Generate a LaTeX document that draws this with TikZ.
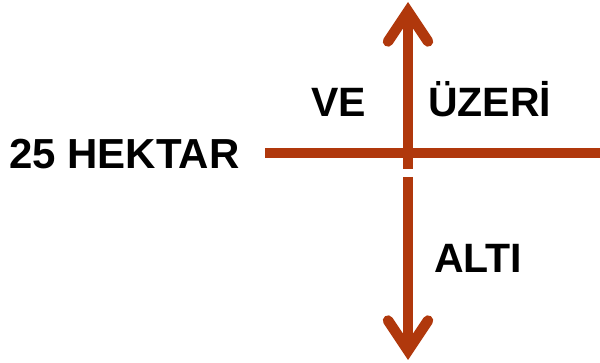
\documentclass[tikz,border=0pt]{standalone}
\usepackage{fontspec}
\setmainfont{Liberation Sans}
\usetikzlibrary{arrows.meta}
\definecolor{rust}{HTML}{B0380C}

\begin{document}
\begin{tikzpicture}[x=1pt, y=-1pt,
  bar/.style={rust, line width=10.5pt},
  tip/.style={-{Straight Barb[length=30pt, width=40pt, line cap=round, line join=miter]}},
  lbl/.style={anchor=base west, inner sep=0pt, font=\bfseries\fontsize{41}{48}\selectfont}]
  \useasboundingbox (0,0) rectangle (600,363);

  \coordinate (left) at (265,152.8);
  \coordinate (right) at (600,152.8);
  \coordinate (upfoot) at (408,169);
  \coordinate (top) at (408,2);
  \coordinate (downfoot) at (408,177);
  \coordinate (bottom) at (408,360);

  \draw[bar] (left) -- (right);
  \draw[bar, tip] (upfoot) -- (top);
  \draw[bar, tip] (downfoot) -- (bottom);

  \node[lbl, font=\bfseries\fontsize{42}{48}\selectfont] (hektar) at (9,169) {25 HEKTAR};
  \node[lbl] (ve) at (311,117) {VE};
  \node[lbl] (uzeri) at (428,117) {ÜZERİ};
  \node[lbl] (alti) at (434,273) {ALTI};
\end{tikzpicture}
\end{document}
